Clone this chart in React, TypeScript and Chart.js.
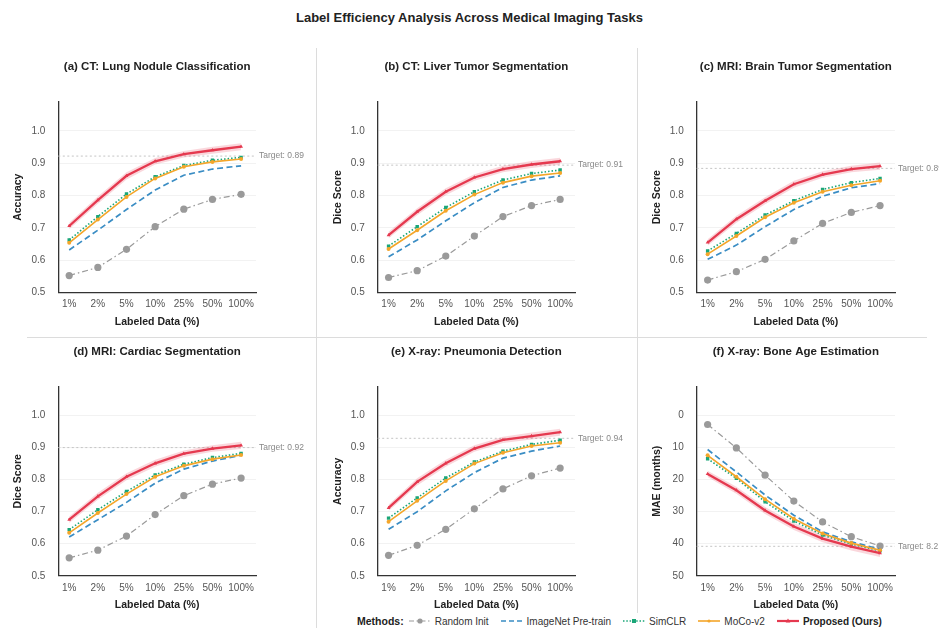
import React, { useEffect, useRef } from 'react';
import { Chart, registerables } from 'chart.js';

Chart.register(...registerables);

const FONT = "'Liberation Sans', Arial, Helvetica, sans-serif";
Chart.defaults.font.family = FONT;

// ---------- data ----------
const CATEGORIES = ['1%', '2%', '5%', '10%', '25%', '50%', '100%'];
const SCORE_TICKS = [0.5, 0.6, 0.7, 0.8, 0.9, 1.0];
const MAE_TICKS = [0, 10, 20, 30, 40, 50];

// (a) CT: Lung Nodule Classification
const A_RANDOM = [0.553, 0.578, 0.634, 0.704, 0.758, 0.788, 0.804];
const A_IMAGENET = [0.632, 0.693, 0.757, 0.817, 0.863, 0.882, 0.892];
const A_SIMCLR = [0.663, 0.735, 0.805, 0.858, 0.893, 0.909, 0.918];
const A_MOCO = [0.654, 0.726, 0.796, 0.853, 0.889, 0.904, 0.913];
const A_PROPOSED = [0.706, 0.786, 0.861, 0.906, 0.928, 0.940, 0.951];
const A_STD = [0.01, 0.011, 0.011, 0.01, 0.01, 0.011, 0.011];

// (b) CT: Liver Tumor Segmentation
const B_RANDOM = [0.547, 0.568, 0.613, 0.675, 0.735, 0.769, 0.788];
const B_IMAGENET = [0.611, 0.663, 0.722, 0.778, 0.825, 0.848, 0.861];
const B_SIMCLR = [0.644, 0.704, 0.763, 0.812, 0.848, 0.868, 0.879];
const B_MOCO = [0.635, 0.693, 0.753, 0.803, 0.840, 0.860, 0.870];
const B_PROPOSED = [0.678, 0.750, 0.812, 0.856, 0.882, 0.896, 0.906];
const B_STD = [0.01, 0.011, 0.011, 0.01, 0.01, 0.011, 0.011];

// (c) MRI: Brain Tumor Segmentation
const C_RANDOM = [0.539, 0.565, 0.603, 0.660, 0.714, 0.748, 0.769];
const C_IMAGENET = [0.603, 0.647, 0.704, 0.757, 0.798, 0.824, 0.837];
const C_SIMCLR = [0.629, 0.683, 0.740, 0.784, 0.819, 0.840, 0.853];
const C_MOCO = [0.619, 0.675, 0.733, 0.778, 0.812, 0.832, 0.846];
const C_PROPOSED = [0.655, 0.727, 0.784, 0.835, 0.865, 0.882, 0.891];
const C_STD = [0.01, 0.011, 0.011, 0.011, 0.01, 0.01, 0.011];

// (d) MRI: Cardiac Segmentation
const D_RANDOM = [0.556, 0.580, 0.624, 0.691, 0.750, 0.786, 0.805];
const D_IMAGENET = [0.621, 0.675, 0.729, 0.789, 0.833, 0.858, 0.876];
const D_SIMCLR = [0.644, 0.706, 0.763, 0.815, 0.848, 0.869, 0.882];
const D_MOCO = [0.634, 0.696, 0.755, 0.809, 0.843, 0.864, 0.877];
const D_PROPOSED = [0.675, 0.748, 0.809, 0.851, 0.881, 0.897, 0.907];
const D_STD = [0.01, 0.011, 0.011, 0.011, 0.01, 0.01, 0.011];

// (e) X-ray: Pneumonia Detection
const E_RANDOM = [0.564, 0.595, 0.645, 0.709, 0.771, 0.812, 0.836];
const E_IMAGENET = [0.645, 0.700, 0.765, 0.822, 0.867, 0.889, 0.905];
const E_SIMCLR = [0.680, 0.743, 0.805, 0.855, 0.889, 0.910, 0.923];
const E_MOCO = [0.669, 0.734, 0.796, 0.850, 0.884, 0.905, 0.915];
const E_PROPOSED = [0.712, 0.793, 0.851, 0.897, 0.924, 0.936, 0.948];
const E_STD = [0.01, 0.011, 0.011, 0.01, 0.01, 0.011, 0.011];

// (f) X-ray: Bone Age Estimation (MAE, months)
const F_RANDOM = [2.8, 10.1, 18.6, 26.7, 33.2, 37.8, 40.7];
const F_IMAGENET = [10.6, 17.6, 24.8, 31.1, 36.3, 39.4, 41.7];
const F_SIMCLR = [13.5, 19.6, 26.9, 32.9, 37.3, 40.1, 42.2];
const F_MOCO = [12.4, 19.1, 26.1, 32.2, 36.8, 39.8, 42.0];
const F_PROPOSED = [18.2, 23.3, 29.6, 34.6, 38.4, 40.9, 42.9];
const F_STD = [1.0, 1.1, 1.1, 1.1, 1.1, 1.2, 1.2];

const TITLES = [
  '(a) CT: Lung Nodule Classification',
  '(b) CT: Liver Tumor Segmentation',
  '(c) MRI: Brain Tumor Segmentation',
  '(d) MRI: Cardiac Segmentation',
  '(e) X-ray: Pneumonia Detection',
  '(f) X-ray: Bone Age Estimation',
];
const Y_LABELS = ['Accuracy', 'Dice Score', 'Dice Score', 'Dice Score', 'Accuracy', 'MAE (months)'];
const TARGET_VALUES = [0.922, 0.894, 0.884, 0.9, 0.929, 40.8];
const TARGET_LABELS = ['Target: 0.89', 'Target: 0.91', 'Target: 0.89', 'Target: 0.92', 'Target: 0.94', 'Target: 8.2'];

const METHOD_NAMES = ['Random Init', 'ImageNet Pre-train', 'SimCLR', 'MoCo-v2', 'Proposed (Ours)'];

// ---------- styles ----------
const C_GRAY = '#9a9a9a';
const C_BLUE = '#3a8dc4';
const C_GREEN = '#1aa678';
const C_ORANGE = '#f4a62a';
const C_RED = '#e5394f';
const BAND = 'rgba(229,57,79,0.2)';

type PanelData = {
  random: number[];
  imagenet: number[];
  simclr: number[];
  moco: number[];
  proposed: number[];
  std: number[];
};

const PANELS: PanelData[] = [
  { random: A_RANDOM, imagenet: A_IMAGENET, simclr: A_SIMCLR, moco: A_MOCO, proposed: A_PROPOSED, std: A_STD },
  { random: B_RANDOM, imagenet: B_IMAGENET, simclr: B_SIMCLR, moco: B_MOCO, proposed: B_PROPOSED, std: B_STD },
  { random: C_RANDOM, imagenet: C_IMAGENET, simclr: C_SIMCLR, moco: C_MOCO, proposed: C_PROPOSED, std: C_STD },
  { random: D_RANDOM, imagenet: D_IMAGENET, simclr: D_SIMCLR, moco: D_MOCO, proposed: D_PROPOSED, std: D_STD },
  { random: E_RANDOM, imagenet: E_IMAGENET, simclr: E_SIMCLR, moco: E_MOCO, proposed: E_PROPOSED, std: E_STD },
  { random: F_RANDOM, imagenet: F_IMAGENET, simclr: F_SIMCLR, moco: F_MOCO, proposed: F_PROPOSED, std: F_STD },
];

const pts = (arr: number[]) => arr.map((v, i) => ({ x: i, y: v }));

const decorPlugin = {
  id: 'panelDecor',
  beforeDatasetsDraw(chart: any) {
    const o = chart.options.plugins.panelDecor;
    const { ctx, chartArea } = chart;
    const y = chart.scales.y.getPixelForValue(o.target);
    ctx.save();
    ctx.strokeStyle = '#c4c4c4';
    ctx.lineWidth = 1;
    ctx.setLineDash([2, 2.5]);
    ctx.beginPath();
    ctx.moveTo(chartArea.left, y);
    ctx.lineTo(chartArea.right, y);
    ctx.stroke();
    ctx.restore();
  },
  afterDraw(chart: any) {
    const o = chart.options.plugins.panelDecor;
    const { ctx, chartArea } = chart;
    const y = chart.scales.y.getPixelForValue(o.target);
    ctx.save();
    ctx.fillStyle = '#888';
    ctx.font = `8.5px ${FONT}`;
    ctx.textAlign = 'left';
    ctx.textBaseline = 'middle';
    ctx.fillText(o.targetLabel, chartArea.right + 3, y);
    ctx.fillStyle = '#222';
    ctx.font = `bold 11.5px ${FONT}`;
    ctx.textAlign = 'center';
    ctx.fillText(o.title, (chartArea.left + chartArea.right) / 2, chartArea.top - 35);
    ctx.restore();
  },
};

function buildConfig(idx: number, pad: { left: number; right: number; top: number; bottom: number }) {
  const p = PANELS[idx];
  const isMae = idx === 5;
  const upper = p.proposed.map((v, i) => v + p.std[i]);
  const lower = p.proposed.map((v, i) => v - p.std[i]);
  const base = { tension: 0, pointBorderWidth: 0, fill: false };
  return {
    type: 'line',
    data: {
      datasets: [
        { ...base, label: METHOD_NAMES[4], data: pts(p.proposed), borderColor: C_RED, borderWidth: 2.3, pointRadius: 2.2, pointStyle: 'triangle', pointBackgroundColor: C_RED, order: 0 },
        { ...base, label: METHOD_NAMES[3], data: pts(p.moco), borderColor: C_ORANGE, borderWidth: 1.6, pointRadius: 2, pointStyle: 'circle', pointBackgroundColor: C_ORANGE, order: 1 },
        { ...base, label: METHOD_NAMES[2], data: pts(p.simclr), borderColor: C_GREEN, borderWidth: 1.6, borderDash: [1.5, 2], pointRadius: 2.4, pointStyle: 'rect', pointBackgroundColor: C_GREEN, order: 2 },
        { ...base, label: METHOD_NAMES[1], data: pts(p.imagenet), borderColor: C_BLUE, borderWidth: 1.7, borderDash: [6, 3.5], pointRadius: 0, order: 3 },
        { ...base, label: METHOD_NAMES[0], data: pts(p.random), borderColor: C_GRAY, borderWidth: 1.2, borderDash: [6, 3, 1.5, 3], pointRadius: 3.6, pointStyle: 'circle', pointBackgroundColor: C_GRAY, order: 4 },
        { ...base, label: 'band-upper', data: pts(upper), borderWidth: 0, borderColor: 'rgba(0,0,0,0)', pointRadius: 0, order: 5 },
        { ...base, label: 'band-lower', data: pts(lower), borderWidth: 0, borderColor: 'rgba(0,0,0,0)', pointRadius: 0, fill: '-1', backgroundColor: BAND, order: 6 },
      ],
    },
    options: {
      animation: false,
      responsive: false,
      events: [],
      layout: { padding: pad },
      plugins: {
        legend: { display: false },
        tooltip: { enabled: false },
        title: { display: false },
        panelDecor: { title: TITLES[idx], target: TARGET_VALUES[idx], targetLabel: TARGET_LABELS[idx] },
      },
      scales: {
        x: {
          type: 'linear',
          min: -0.38,
          max: 6.52,
          afterBuildTicks: (s: any) => {
            s.ticks = CATEGORIES.map((_, i) => ({ value: i }));
          },
          ticks: {
            callback: (v: number) => CATEGORIES[v] ?? '',
            color: '#555',
            font: { size: 10 },
            padding: 6,
            maxRotation: 0,
            autoSkip: false,
          },
          grid: { display: false, drawTicks: false },
          border: { display: true, color: '#333', width: 1.3 },
          title: { display: true, text: 'Labeled Data (%)', color: '#222', font: { size: 10.5, weight: 'bold' }, padding: { top: 4, bottom: 4 } },
          afterFit: (s: any) => {
            s.height = 40;
          },
        },
        y: {
          type: 'linear',
          min: isMae ? -9 : 0.5,
          max: isMae ? 50 : 1.09,
          reverse: isMae,
          afterBuildTicks: (s: any) => {
            s.ticks = (isMae ? MAE_TICKS : SCORE_TICKS).map((v) => ({ value: v }));
          },
          ticks: {
            callback: (v: number) => (isMae ? String(v) : v.toFixed(1)),
            color: '#555',
            font: { size: 10 },
            padding: 13,
          },
          grid: { color: '#efefef', lineWidth: 0.8, drawTicks: false },
          border: { display: true, color: '#333', width: 1.3 },
          title: { display: true, text: Y_LABELS[idx], color: '#222', font: { size: 10.5, weight: 'bold' }, padding: { top: 12, bottom: 0 } },
          afterFit: (s: any) => {
            s.width = 58;
          },
        },
      },
    },
    plugins: [decorPlugin],
  };
}

type PanelProps = { idx: number; left: number; top: number; width: number; height: number; pad: { left: number; right: number; top: number; bottom: number } };

function Panel({ idx, left, top, width, height, pad }: PanelProps) {
  const ref = useRef<HTMLCanvasElement | null>(null);
  useEffect(() => {
    const chart = new Chart(ref.current as HTMLCanvasElement, buildConfig(idx, pad) as any);
    return () => chart.destroy();
  }, []);
  return (
    <canvas
      ref={ref}
      width={width}
      height={height}
      style={{ position: 'absolute', left, top, width, height }}
    />
  );
}

const COLS = [
  { left: 0, width: 316, padL: 0.3, padR: 60 },
  { left: 317, width: 320, padL: 2.7, padR: 62 },
  { left: 638, width: 301, padL: 0.7, padR: 44 },
];
const ROWS = [
  { top: 40, height: 297, padT: 61.7, padB: 4.3 },
  { top: 338, height: 283, padT: 48.7, padB: 5.2 },
];

function LegendSymbol({ color, dash, marker, width }: { color: string; dash?: string; marker?: string; width: number }) {
  return (
    <svg width={24} height={10} style={{ display: 'block' }}>
      <line x1={1} y1={5} x2={23} y2={5} stroke={color} strokeWidth={width} strokeDasharray={dash} />
      {marker === 'circle' && <circle cx={12} cy={5} r={2.6} fill={color} />}
      {marker === 'rect' && <rect x={10} y={3} width={4} height={4} fill={color} />}
      {marker === 'small' && <circle cx={12} cy={5} r={1.6} fill={color} />}
      {marker === 'triangle' && <polygon points="12,2.6 14.3,6.6 9.7,6.6" fill={color} />}
    </svg>
  );
}

const LEGEND_STYLES = [
  { color: C_GRAY, dash: '5 2.5 1.5 2.5', marker: 'circle', width: 1.2 },
  { color: C_BLUE, dash: '5 3', marker: '', width: 1.6 },
  { color: C_GREEN, dash: '1.5 1.8', marker: 'rect', width: 1.5 },
  { color: C_ORANGE, dash: undefined, marker: 'small', width: 1.6 },
  { color: C_RED, dash: undefined, marker: 'triangle', width: 2.2 },
];

export default function App() {
  return (
    <div
      style={{
        position: 'absolute',
        left: 0,
        top: 0,
        width: 939,
        height: 633,
        overflow: 'hidden',
        background: '#fff',
        fontFamily: FONT,
      }}
    >
      <div
        style={{
          position: 'absolute',
          left: 0,
          top: 9,
          width: 939,
          textAlign: 'center',
          fontSize: 13,
          fontWeight: 'bold',
          color: '#222',
          lineHeight: '18px',
        }}
      >
        Label Efficiency Analysis Across Medical Imaging Tasks
      </div>
      {/* separators */}
      <div style={{ position: 'absolute', left: 316, top: 48, width: 1, height: 580, background: '#dcdcdc' }} />
      <div style={{ position: 'absolute', left: 637, top: 48, width: 1, height: 580, background: '#dcdcdc' }} />
      <div style={{ position: 'absolute', left: 27, top: 337, width: 900, height: 1, background: '#dcdcdc' }} />
      {ROWS.map((r, ri) =>
        COLS.map((c, ci) => (
          <Panel
            key={`${ri}-${ci}`}
            idx={ri * 3 + ci}
            left={c.left}
            top={r.top}
            width={c.width}
            height={r.height}
            pad={{ left: c.padL, right: c.padR, top: r.padT, bottom: r.padB }}
          />
        ))
      )}
      {/* legend */}
      <div
        style={{
          position: 'absolute',
          left: 357,
          top: 613,
          height: 16,
          display: 'flex',
          alignItems: 'center',
          fontSize: 10,
          color: '#333',
          whiteSpace: 'nowrap',
          background: '#fff',
        }}
      >
        <span style={{ fontWeight: 'bold', fontSize: 10.5, color: '#222', marginRight: 4 }}>Methods:</span>
        {METHOD_NAMES.map((name, i) => (
          <span key={name} style={{ display: 'flex', alignItems: 'center', marginRight: 11 }}>
            <LegendSymbol {...LEGEND_STYLES[i]} />
            <span style={{ marginLeft: 3, fontWeight: i === 4 ? 'bold' : 'normal', color: i === 4 ? '#222' : '#333' }}>{name}</span>
          </span>
        ))}
      </div>
    </div>
  );
}
